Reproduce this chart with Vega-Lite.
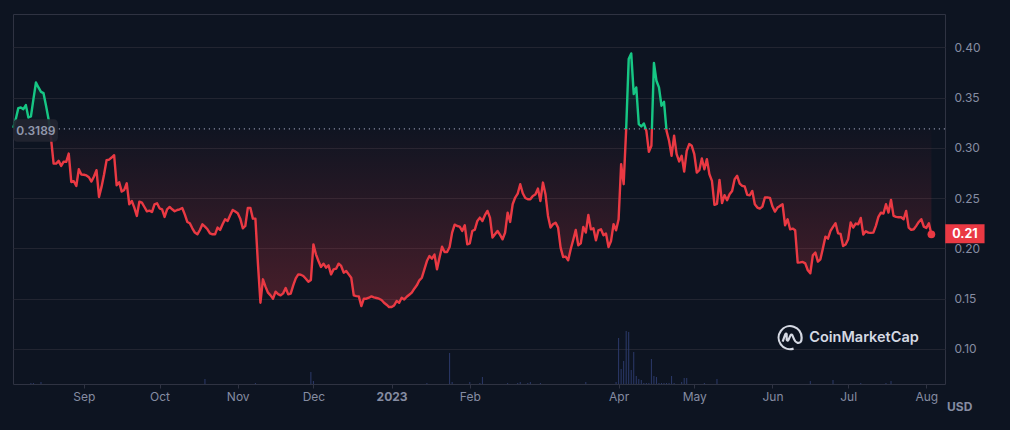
{
  "$schema": "https://vega.github.io/schema/vega-lite/v6.json",
  "description": "Token price in USD with baseline colouring and volume, Aug 2022 to Aug 2023",
  "width": 932,
  "height": 370,
  "autosize": "none",
  "padding": {"left": 13, "top": 14, "right": 65, "bottom": 46},
  "background": "#0d1421",
  "config": {
    "view": {"stroke": "#2f3342", "strokeWidth": 1},
    "axis": {"title": null, "labelFont": "Inter", "labelFontSize": 12, "labelColor": "#858ca2", "domain": false},
    "axisX": {"grid": false},
    "text": {"font": "Inter"}
  },
  "datasets": {
    "prices": [
      {"date":"2022-08-04","price":0.32},{"date":"2022-08-05","price":0.3285},{"date":"2022-08-06","price":0.3395},{"date":"2022-08-07","price":0.3401},{"date":"2022-08-08","price":0.3385},{"date":"2022-08-09","price":0.3425},{"date":"2022-08-10","price":0.3302},{"date":"2022-08-11","price":0.3312},{"date":"2022-08-12","price":0.3484},{"date":"2022-08-13","price":0.365},{"date":"2022-08-14","price":0.3601},{"date":"2022-08-15","price":0.3557},{"date":"2022-08-16","price":0.3544},{"date":"2022-08-17","price":0.3418},{"date":"2022-08-18","price":0.3285},{"date":"2022-08-19","price":0.3086},{"date":"2022-08-20","price":0.2843},{"date":"2022-08-21","price":0.2843},{"date":"2022-08-22","price":0.287},{"date":"2022-08-23","price":0.282},{"date":"2022-08-24","price":0.2863},{"date":"2022-08-25","price":0.286},{"date":"2022-08-26","price":0.2943},{"date":"2022-08-27","price":0.266},{"date":"2022-08-28","price":0.2667},{"date":"2022-08-29","price":0.262},{"date":"2022-08-30","price":0.2787},{"date":"2022-08-31","price":0.2734},
      {"date":"2022-09-01","price":0.2732},{"date":"2022-09-02","price":0.2725},{"date":"2022-09-03","price":0.2707},{"date":"2022-09-04","price":0.2664},{"date":"2022-09-05","price":0.2714},{"date":"2022-09-06","price":0.2777},{"date":"2022-09-07","price":0.2511},{"date":"2022-09-08","price":0.2611},{"date":"2022-09-09","price":0.2734},{"date":"2022-09-10","price":0.2876},{"date":"2022-09-11","price":0.2883},{"date":"2022-09-12","price":0.2903},{"date":"2022-09-13","price":0.2926},{"date":"2022-09-14","price":0.2627},{"date":"2022-09-15","price":0.2657},{"date":"2022-09-16","price":0.2564},{"date":"2022-09-17","price":0.2581},{"date":"2022-09-18","price":0.2647},{"date":"2022-09-19","price":0.2438},{"date":"2022-09-20","price":0.2471},{"date":"2022-09-21","price":0.2405},{"date":"2022-09-22","price":0.2322},{"date":"2022-09-23","price":0.2464},{"date":"2022-09-24","price":0.2454},{"date":"2022-09-25","price":0.2411},{"date":"2022-09-26","price":0.2368},{"date":"2022-09-27","price":0.2375},{"date":"2022-09-28","price":0.2361},{"date":"2022-09-29","price":0.2438},{"date":"2022-09-30","price":0.2448},
      {"date":"2022-10-01","price":0.2398},{"date":"2022-10-02","price":0.2388},{"date":"2022-10-03","price":0.2312},{"date":"2022-10-04","price":0.2388},{"date":"2022-10-05","price":0.2411},{"date":"2022-10-06","price":0.2388},{"date":"2022-10-07","price":0.2368},{"date":"2022-10-08","price":0.2381},{"date":"2022-10-09","price":0.2388},{"date":"2022-10-10","price":0.2401},{"date":"2022-10-11","price":0.2338},{"date":"2022-10-12","price":0.2262},{"date":"2022-10-13","price":0.2249},{"date":"2022-10-14","price":0.2199},{"date":"2022-10-15","price":0.2156},{"date":"2022-10-16","price":0.2139},{"date":"2022-10-17","price":0.2182},{"date":"2022-10-18","price":0.2239},{"date":"2022-10-19","price":0.2216},{"date":"2022-10-20","price":0.2189},{"date":"2022-10-21","price":0.2149},{"date":"2022-10-22","price":0.2139},{"date":"2022-10-23","price":0.2139},{"date":"2022-10-24","price":0.2206},{"date":"2022-10-25","price":0.2182},{"date":"2022-10-26","price":0.2239},{"date":"2022-10-27","price":0.2289},{"date":"2022-10-28","price":0.2272},{"date":"2022-10-29","price":0.2329},{"date":"2022-10-30","price":0.2382},{"date":"2022-10-31","price":0.2365},
      {"date":"2022-11-01","price":0.2348},{"date":"2022-11-02","price":0.2295},{"date":"2022-11-03","price":0.2199},{"date":"2022-11-04","price":0.2222},{"date":"2022-11-05","price":0.2402},{"date":"2022-11-06","price":0.2402},{"date":"2022-11-07","price":0.2295},{"date":"2022-11-08","price":0.2295},{"date":"2022-11-09","price":0.185},{"date":"2022-11-10","price":0.1458},{"date":"2022-11-11","price":0.1691},{"date":"2022-11-12","price":0.1618},{"date":"2022-11-13","price":0.1558},{"date":"2022-11-14","price":0.1531},{"date":"2022-11-15","price":0.1498},{"date":"2022-11-16","price":0.1568},{"date":"2022-11-17","price":0.1544},{"date":"2022-11-18","price":0.1531},{"date":"2022-11-19","price":0.1551},{"date":"2022-11-20","price":0.1604},{"date":"2022-11-21","price":0.1541},{"date":"2022-11-22","price":0.1548},{"date":"2022-11-23","price":0.1631},{"date":"2022-11-24","price":0.1701},{"date":"2022-11-25","price":0.174},{"date":"2022-11-26","price":0.1737},{"date":"2022-11-27","price":0.1724},{"date":"2022-11-28","price":0.1697},{"date":"2022-11-29","price":0.1667},{"date":"2022-11-30","price":0.1684},
      {"date":"2022-12-01","price":0.2039},{"date":"2022-12-02","price":0.194},{"date":"2022-12-03","price":0.1873},{"date":"2022-12-04","price":0.1814},{"date":"2022-12-05","price":0.1847},{"date":"2022-12-06","price":0.1807},{"date":"2022-12-07","price":0.183},{"date":"2022-12-08","price":0.174},{"date":"2022-12-09","price":0.179},{"date":"2022-12-10","price":0.1797},{"date":"2022-12-11","price":0.1847},{"date":"2022-12-12","price":0.1824},{"date":"2022-12-13","price":0.1757},{"date":"2022-12-14","price":0.1774},{"date":"2022-12-15","price":0.174},{"date":"2022-12-16","price":0.1707},{"date":"2022-12-17","price":0.1531},{"date":"2022-12-18","price":0.1524},{"date":"2022-12-19","price":0.1521},{"date":"2022-12-20","price":0.1425},{"date":"2022-12-21","price":0.1498},{"date":"2022-12-22","price":0.1498},{"date":"2022-12-23","price":0.1508},{"date":"2022-12-24","price":0.1521},{"date":"2022-12-25","price":0.1511},{"date":"2022-12-26","price":0.1505},{"date":"2022-12-27","price":0.1498},{"date":"2022-12-28","price":0.1485},{"date":"2022-12-29","price":0.1458},{"date":"2022-12-30","price":0.1438},{"date":"2022-12-31","price":0.1415},
      {"date":"2023-01-01","price":0.1415},{"date":"2023-01-02","price":0.1431},{"date":"2023-01-03","price":0.1475},{"date":"2023-01-04","price":0.1458},{"date":"2023-01-05","price":0.1508},{"date":"2023-01-06","price":0.1491},{"date":"2023-01-07","price":0.1518},{"date":"2023-01-08","price":0.1538},{"date":"2023-01-09","price":0.1558},{"date":"2023-01-10","price":0.1598},{"date":"2023-01-11","price":0.1631},{"date":"2023-01-12","price":0.1681},{"date":"2023-01-13","price":0.1707},{"date":"2023-01-14","price":0.179},{"date":"2023-01-15","price":0.1873},{"date":"2023-01-16","price":0.1923},{"date":"2023-01-17","price":0.1897},{"date":"2023-01-18","price":0.1937},{"date":"2023-01-19","price":0.179},{"date":"2023-01-20","price":0.1907},{"date":"2023-01-21","price":0.2016},{"date":"2023-01-22","price":0.1963},{"date":"2023-01-23","price":0.1963},{"date":"2023-01-24","price":0.2013},{"date":"2023-01-25","price":0.2156},{"date":"2023-01-26","price":0.2235},{"date":"2023-01-27","price":0.2222},{"date":"2023-01-28","price":0.2216},{"date":"2023-01-29","price":0.2172},{"date":"2023-01-30","price":0.2229},{"date":"2023-01-31","price":0.2039},
      {"date":"2023-02-01","price":0.2049},{"date":"2023-02-02","price":0.2172},{"date":"2023-02-03","price":0.2186},{"date":"2023-02-04","price":0.2272},{"date":"2023-02-05","price":0.2305},{"date":"2023-02-06","price":0.2272},{"date":"2023-02-07","price":0.2329},{"date":"2023-02-08","price":0.2372},{"date":"2023-02-09","price":0.2305},{"date":"2023-02-10","price":0.2106},{"date":"2023-02-11","price":0.2139},{"date":"2023-02-12","price":0.2172},{"date":"2023-02-13","price":0.2133},{"date":"2023-02-14","price":0.2089},{"date":"2023-02-15","price":0.2156},{"date":"2023-02-16","price":0.2355},{"date":"2023-02-17","price":0.2262},{"date":"2023-02-18","price":0.2438},{"date":"2023-02-19","price":0.2505},{"date":"2023-02-20","price":0.2544},{"date":"2023-02-21","price":0.2637},{"date":"2023-02-22","price":0.2548},{"date":"2023-02-23","price":0.2501},{"date":"2023-02-24","price":0.2488},{"date":"2023-02-25","price":0.2488},{"date":"2023-02-26","price":0.2521},{"date":"2023-02-27","price":0.2535},{"date":"2023-02-28","price":0.2594},
      {"date":"2023-03-01","price":0.2471},{"date":"2023-03-02","price":0.2654},{"date":"2023-03-03","price":0.2538},{"date":"2023-03-04","price":0.2322},{"date":"2023-03-05","price":0.2206},{"date":"2023-03-06","price":0.2239},{"date":"2023-03-07","price":0.2255},{"date":"2023-03-08","price":0.2206},{"date":"2023-03-09","price":0.2006},{"date":"2023-03-10","price":0.1913},{"date":"2023-03-11","price":0.1917},{"date":"2023-03-12","price":0.188},{"date":"2023-03-13","price":0.199},{"date":"2023-03-14","price":0.2083},{"date":"2023-03-15","price":0.2182},{"date":"2023-03-16","price":0.203},{"date":"2023-03-17","price":0.2049},{"date":"2023-03-18","price":0.2212},{"date":"2023-03-19","price":0.2156},{"date":"2023-03-20","price":0.2332},{"date":"2023-03-21","price":0.2189},{"date":"2023-03-22","price":0.2199},{"date":"2023-03-23","price":0.2079},{"date":"2023-03-24","price":0.2179},{"date":"2023-03-25","price":0.2189},{"date":"2023-03-26","price":0.2129},{"date":"2023-03-27","price":0.2146},{"date":"2023-03-28","price":0.2013},{"date":"2023-03-29","price":0.2073},{"date":"2023-03-30","price":0.2239},{"date":"2023-03-31","price":0.2179},
      {"date":"2023-04-01","price":0.2289},{"date":"2023-04-02","price":0.2837},{"date":"2023-04-03","price":0.2638},{"date":"2023-04-04","price":0.3186},{"date":"2023-04-05","price":0.3884},{"date":"2023-04-06","price":0.394},{"date":"2023-04-07","price":0.3535},{"date":"2023-04-08","price":0.3601},{"date":"2023-04-09","price":0.3236},{"date":"2023-04-10","price":0.3213},{"date":"2023-04-11","price":0.3242},{"date":"2023-04-12","price":0.3169},{"date":"2023-04-13","price":0.296},{"date":"2023-04-14","price":0.302},{"date":"2023-04-15","price":0.3844},{"date":"2023-04-16","price":0.3668},{"date":"2023-04-17","price":0.3601},{"date":"2023-04-18","price":0.3419},{"date":"2023-04-19","price":0.3458},{"date":"2023-04-20","price":0.3169},{"date":"2023-04-21","price":0.307},{"date":"2023-04-22","price":0.292},{"date":"2023-04-23","price":0.312},{"date":"2023-04-24","price":0.2937},{"date":"2023-04-25","price":0.2864},{"date":"2023-04-26","price":0.292},{"date":"2023-04-27","price":0.2764},{"date":"2023-04-28","price":0.297},{"date":"2023-04-29","price":0.3037},{"date":"2023-04-30","price":0.302},
      {"date":"2023-05-01","price":0.2937},{"date":"2023-05-02","price":0.2754},{"date":"2023-05-03","price":0.2777},{"date":"2023-05-04","price":0.2894},{"date":"2023-05-05","price":0.2787},{"date":"2023-05-06","price":0.2887},{"date":"2023-05-07","price":0.2737},{"date":"2023-05-08","price":0.2671},{"date":"2023-05-09","price":0.2432},{"date":"2023-05-10","price":0.2442},{"date":"2023-05-11","price":0.2681},{"date":"2023-05-12","price":0.2449},{"date":"2023-05-13","price":0.2528},{"date":"2023-05-14","price":0.2478},{"date":"2023-05-15","price":0.2538},{"date":"2023-05-16","price":0.2571},{"date":"2023-05-17","price":0.2688},{"date":"2023-05-18","price":0.2721},{"date":"2023-05-19","price":0.2644},{"date":"2023-05-20","price":0.2621},{"date":"2023-05-21","price":0.2615},{"date":"2023-05-22","price":0.2531},{"date":"2023-05-23","price":0.2528},{"date":"2023-05-24","price":0.2571},{"date":"2023-05-25","price":0.2438},{"date":"2023-05-26","price":0.2405},{"date":"2023-05-27","price":0.2395},{"date":"2023-05-28","price":0.2415},{"date":"2023-05-29","price":0.2505},{"date":"2023-05-30","price":0.2505},{"date":"2023-05-31","price":0.2502},
      {"date":"2023-06-01","price":0.2415},{"date":"2023-06-02","price":0.2365},{"date":"2023-06-03","price":0.2405},{"date":"2023-06-04","price":0.2422},{"date":"2023-06-05","price":0.2438},{"date":"2023-06-06","price":0.2229},{"date":"2023-06-07","price":0.2289},{"date":"2023-06-08","price":0.2189},{"date":"2023-06-09","price":0.2196},{"date":"2023-06-10","price":0.2179},{"date":"2023-06-11","price":0.1857},{"date":"2023-06-12","price":0.186},{"date":"2023-06-13","price":0.1864},{"date":"2023-06-14","price":0.185},{"date":"2023-06-15","price":0.1781},{"date":"2023-06-16","price":0.1751},{"date":"2023-06-17","price":0.193},{"date":"2023-06-18","price":0.1957},{"date":"2023-06-19","price":0.1867},{"date":"2023-06-20","price":0.189},{"date":"2023-06-21","price":0.2},{"date":"2023-06-22","price":0.2116},{"date":"2023-06-23","price":0.2096},{"date":"2023-06-24","price":0.2173},{"date":"2023-06-25","price":0.2213},{"date":"2023-06-26","price":0.2249},{"date":"2023-06-27","price":0.2149},{"date":"2023-06-28","price":0.2143},{"date":"2023-06-29","price":0.2023},{"date":"2023-06-30","price":0.2037},
      {"date":"2023-07-01","price":0.209},{"date":"2023-07-02","price":0.2256},{"date":"2023-07-03","price":0.2206},{"date":"2023-07-04","price":0.2246},{"date":"2023-07-05","price":0.2239},{"date":"2023-07-06","price":0.2302},{"date":"2023-07-07","price":0.2136},{"date":"2023-07-08","price":0.2169},{"date":"2023-07-09","price":0.2156},{"date":"2023-07-10","price":0.2153},{"date":"2023-07-11","price":0.2156},{"date":"2023-07-12","price":0.2223},{"date":"2023-07-13","price":0.2312},{"date":"2023-07-14","price":0.2355},{"date":"2023-07-15","price":0.2345},{"date":"2023-07-16","price":0.2438},{"date":"2023-07-17","price":0.2355},{"date":"2023-07-18","price":0.2482},{"date":"2023-07-19","price":0.2322},{"date":"2023-07-20","price":0.2312},{"date":"2023-07-21","price":0.2309},{"date":"2023-07-22","price":0.2309},{"date":"2023-07-23","price":0.2289},{"date":"2023-07-24","price":0.2372},{"date":"2023-07-25","price":0.2206},{"date":"2023-07-26","price":0.2183},{"date":"2023-07-27","price":0.2189},{"date":"2023-07-28","price":0.2223},{"date":"2023-07-29","price":0.2262},{"date":"2023-07-30","price":0.2289},{"date":"2023-07-31","price":0.2216},
      {"date":"2023-08-01","price":0.2203},{"date":"2023-08-02","price":0.2249},{"date":"2023-08-03","price":0.2139}
    ],
    "volumes": [
      {"date":"2022-08-11","volume":1},{"date":"2022-08-12","volume":1},{"date":"2022-08-15","volume":2},{"date":"2022-10-19","volume":5},{"date":"2022-11-08","volume":1},{"date":"2022-11-30","volume":12},{"date":"2022-12-01","volume":3},
      {"date":"2023-01-15","volume":1},{"date":"2023-01-24","volume":31},{"date":"2023-01-25","volume":2},{"date":"2023-02-01","volume":2},{"date":"2023-02-05","volume":1},{"date":"2023-02-06","volume":7},{"date":"2023-02-16","volume":1},{"date":"2023-02-20","volume":1},{"date":"2023-02-21","volume":2},{"date":"2023-02-24","volume":1},{"date":"2023-02-25","volume":2},{"date":"2023-03-01","volume":1},{"date":"2023-03-19","volume":2},{"date":"2023-03-31","volume":2},
      {"date":"2023-04-01","volume":46},{"date":"2023-04-02","volume":15},{"date":"2023-04-03","volume":23},{"date":"2023-04-04","volume":53},{"date":"2023-04-05","volume":52},{"date":"2023-04-06","volume":14},{"date":"2023-04-07","volume":32},{"date":"2023-04-08","volume":8},{"date":"2023-04-09","volume":5},{"date":"2023-04-10","volume":4},{"date":"2023-04-11","volume":1},{"date":"2023-04-12","volume":1},{"date":"2023-04-13","volume":1},{"date":"2023-04-14","volume":25},{"date":"2023-04-15","volume":8},{"date":"2023-04-16","volume":7},{"date":"2023-04-17","volume":1},{"date":"2023-04-18","volume":1},{"date":"2023-04-19","volume":1},{"date":"2023-04-20","volume":1},{"date":"2023-04-21","volume":1},{"date":"2023-04-22","volume":8},{"date":"2023-04-23","volume":1},{"date":"2023-04-26","volume":2},{"date":"2023-04-27","volume":6},{"date":"2023-04-28","volume":6},{"date":"2023-05-05","volume":1},{"date":"2023-05-10","volume":5},
      {"date":"2023-06-16","volume":3},{"date":"2023-06-25","volume":4},{"date":"2023-07-06","volume":1},{"date":"2023-07-16","volume":1},{"date":"2023-07-18","volume":3}
    ]
  },
  "resolve": {"scale": {"y": "independent"}},
  "layer": [
    {
      "data": {"name": "volumes"},
      "mark": {"type": "rule", "color": "#2c3a6b", "strokeWidth": 1},
      "encoding": {
        "x": {
          "field": "date",
          "type": "temporal",
          "scale": {"type": "utc", "domain": [{"year": 2022, "month": 8, "date": 3, "hours": 21, "minutes": 36, "utc": true}, {"year": 2023, "month": 8, "date": 8, "hours": 9, "minutes": 36, "utc": true}]},
          "axis": {
            "values": [
              {"year": 2022, "month": 9, "date": 1, "utc": true},
              {"year": 2022, "month": 10, "date": 1, "utc": true},
              {"year": 2022, "month": 11, "date": 1, "utc": true},
              {"year": 2022, "month": 12, "date": 1, "utc": true},
              {"year": 2023, "month": 1, "date": 1, "utc": true},
              {"year": 2023, "month": 2, "date": 1, "utc": true},
              {"year": 2023, "month": 4, "date": 1, "utc": true},
              {"year": 2023, "month": 5, "date": 1, "utc": true},
              {"year": 2023, "month": 6, "date": 1, "utc": true},
              {"year": 2023, "month": 7, "date": 1, "utc": true},
              {"year": 2023, "month": 8, "date": 1, "utc": true}
            ],
            "labelExpr": "utcmonth(datum.value) === 0 ? utcFormat(datum.value, '%Y') : utcFormat(datum.value, '%b')",
            "labelFontWeight": {"condition": {"test": "utcmonth(datum.value) === 0", "value": "bold"}, "value": "normal"},
            "labelPadding": 3,
            "tickSize": 4,
            "tickColor": "#2f3342",
            "labelFlush": false
          }
        },
        "y": {"field": "volume", "type": "quantitative", "scale": {"domain": [0, 370]}, "axis": null},
        "y2": {"datum": 0}
      }
    },
    {
      "layer": [
        {
          "data": {"name": "prices"},
          "mark": {
            "type": "area",
            "color": {
              "gradient": "linear", "x1": 0, "y1": 0, "x2": 0, "y2": 1,
              "stops": [
                {"offset": 0, "color": "rgba(22,199,132,0.2)"},
                {"offset": 0.2974, "color": "rgba(22,199,132,0)"},
                {"offset": 0.2974, "color": "rgba(234,57,67,0.01)"},
                {"offset": 1, "color": "rgba(234,57,67,0.27)"}
              ]
            }
          },
          "encoding": {
            "x": {"field": "date", "type": "temporal"},
            "y": {
              "field": "price",
              "type": "quantitative",
              "scale": {"domain": [0.0649, 0.4332], "zero": false, "nice": false},
              "axis": {
                "orient": "right",
                "values": [0.1, 0.15, 0.2, 0.25, 0.3, 0.35, 0.4],
                "format": ".2f",
                "grid": true,
                "gridColor": "#222531",
                "gridWidth": 1,
                "ticks": false,
                "labelPadding": 9
              }
            },
            "y2": {"datum": 0.3189}
          }
        },
        {
          "data": {"name": "prices"},
          "mark": {
            "type": "line",
            "strokeWidth": 2.4,
            "strokeJoin": "round",
            "color": {
              "gradient": "linear", "x1": 0, "y1": 0, "x2": 0, "y2": 1,
              "stops": [
                {"offset": 0, "color": "#16c784"},
                {"offset": 0.2974, "color": "#16c784"},
                {"offset": 0.2974, "color": "#ea3943"},
                {"offset": 1, "color": "#ea3943"}
              ]
            }
          },
          "encoding": {
            "x": {"field": "date", "type": "temporal"},
            "y": {"field": "price", "type": "quantitative"}
          }
        },
        {
          "data": {"values": [{}]},
          "mark": {"type": "rule", "color": "#858ca2", "strokeWidth": 1.2, "strokeDash": [1.2, 3.8]},
          "encoding": {"y": {"datum": 0.3189}}
        },
        {
          "data": {"values": [{}]},
          "mark": {"type": "rect", "color": "#222531", "opacity": 0.92, "cornerRadius": 4},
          "encoding": {
            "x": {"datum": {"year": 2022, "month": 8, "date": 4, "utc": true}},
            "x2": {"datum": {"year": 2022, "month": 8, "date": 21, "hours": 17, "utc": true}},
            "y": {"datum": 0.3284},
            "y2": {"datum": 0.306}
          }
        },
        {
          "data": {"values": [{}]},
          "mark": {"type": "text", "text": "0.3189", "color": "#9299ad", "fontSize": 12, "fontWeight": 600},
          "encoding": {
            "x": {"datum": {"year": 2022, "month": 8, "date": 13, "utc": true}},
            "y": {"datum": 0.3172}
          }
        },
        {
          "data": {"values": [{}]},
          "mark": {"type": "point", "filled": true, "color": "#ea3943", "size": 60, "opacity": 1},
          "encoding": {
            "x": {"datum": {"year": 2023, "month": 8, "date": 3, "utc": true}},
            "y": {"datum": 0.2139}
          }
        },
        {
          "data": {"values": [{}]},
          "mark": {"type": "rect", "color": "#ea3943"},
          "encoding": {
            "x": {"datum": {"year": 2023, "month": 8, "date": 8, "hours": 12, "utc": true}},
            "x2": {"datum": {"year": 2023, "month": 8, "date": 24, "hours": 2, "utc": true}},
            "y": {"datum": 0.2239},
            "y2": {"datum": 0.205}
          }
        },
        {
          "data": {"values": [{}]},
          "mark": {"type": "text", "text": "0.21", "color": "#ffffff", "fontSize": 12.5, "fontWeight": "bold"},
          "encoding": {
            "x": {"datum": {"year": 2023, "month": 8, "date": 16, "hours": 8, "utc": true}},
            "y": {"datum": 0.2144}
          }
        },
        {
          "data": {"values": [{}]},
          "mark": {"type": "text", "text": "USD", "color": "#858ca2", "fontSize": 12, "fontWeight": "bold"},
          "encoding": {
            "x": {"datum": {"year": 2023, "month": 8, "date": 14, "hours": 5, "utc": true}},
            "y": {"datum": 0.0425}
          }
        },
        {
          "data": {"values": [{}]},
          "mark": {"type": "text", "text": "CoinMarketCap", "align": "left", "color": "#d5d9e3", "fontSize": 14.5, "fontWeight": 600},
          "encoding": {
            "x": {"datum": {"year": 2023, "month": 6, "date": 15, "hours": 14, "utc": true}},
            "y": {"datum": 0.111}
          }
        },
        {
          "data": {"values": [{}]},
          "mark": {
            "type": "point",
            "filled": false,
            "size": 529,
            "opacity": 1,
            "color": "#d5d9e3",
            "strokeWidth": 2.2,
            "shape": "M0.3,0.95A1,1,0,1,1,1,0Q1,0.5,0.65,0.45Q0.45,0.4,0.35,0.15L0.2,-0.2Q0.12,-0.35,0.03,-0.2L-0.15,0.2Q-0.22,0.32,-0.3,0.18L-0.3,-0.3Q-0.35,-0.42,-0.42,-0.3L-0.65,0.35"
          },
          "encoding": {
            "x": {"datum": {"year": 2023, "month": 6, "date": 8, "utc": true}},
            "y": {"datum": 0.111}
          }
        }
      ]
    }
  ]
}
